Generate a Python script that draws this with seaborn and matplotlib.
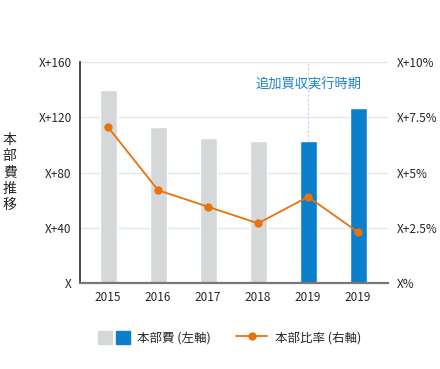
import pandas as pd
import seaborn as sns
import matplotlib.pyplot as plt
from matplotlib.patches import Patch
from matplotlib.lines import Line2D
from matplotlib.legend_handler import HandlerTuple

years = ['2015', '2016', '2017', '2018', '2019', '2019']
cost = [140, 113, 105, 103, 103, 127]
group = ['before', 'before', 'before', 'before', 'after', 'after']
ratio = [7.05, 4.2, 3.45, 2.7, 3.9, 2.3]
left_ticks = ['X', 'X+40', 'X+80', 'X+120', 'X+160']
right_ticks = ['X%', 'X+2.5%', 'X+5%', 'X+7.5%', 'X+10%']

gray = '#d5d8d9'
blue = '#0a7fcc'
orange = '#e8720c'

sns.set_style('white')
plt.rcParams['font.family'] = ['Noto Sans CJK JP', 'DejaVu Sans']

df = pd.DataFrame({'pos': range(len(years)), 'cost': cost, 'group': group, 'ratio': ratio})

fig = plt.figure(figsize=(4.4, 3.69), dpi=100)
ax = fig.add_axes([0.182, 0.233, 0.70, 0.599])
sns.barplot(data=df, x='pos', y='cost', hue='group', palette={'before': gray, 'after': blue},
            dodge=False, width=0.34, legend=False, ax=ax, saturation=1)
ax.set_xlim(-0.56, 5.6)
ax.set_ylim(0, 160)
ax.set_yticks([0, 40, 80, 120, 160])
ax.set_yticklabels(left_ticks, fontsize=8.5)
ax.set_xticks(range(len(years)))
ax.set_xticklabels(years, fontsize=8.5)
ax.tick_params(length=0, pad=6)
ax.set_xlabel('')
ax.set_ylabel('本\n部\n費\n推\n移', rotation=0, fontsize=10, va='center', ha='center', linespacing=1.2)
ax.yaxis.set_label_coords(-0.228, 0.5)
ax.xaxis.grid(False)
ax.yaxis.grid(True, color='#dde6f3', lw=0.9)
ax.set_axisbelow(True)
for s in ['top', 'right']:
    ax.spines[s].set_visible(False)
ax.spines['left'].set_color('#3a3a3a')
ax.spines['left'].set_linewidth(1.3)
ax.spines['left'].set_zorder(5)
ax.spines['bottom'].set_color('#777777')
ax.spines['bottom'].set_linewidth(1.6)
ax.spines['bottom'].set_zorder(5)

ax.vlines(4, cost[4], 160, colors='#c5d0e0', linestyles=(0, (2, 2)), lw=0.8, zorder=0.5)
ax.text(4, 143, '追加買収実行時期', color='#1a80c8', fontsize=9.5, ha='center', va='center')

ax2 = ax.twinx()
sns.lineplot(data=df, x='pos', y='ratio', color=orange, marker='o', markersize=6,
             markeredgewidth=0, lw=1.3, ax=ax2)
ax2.set_ylim(0, 10)
ax2.set_yticks([0, 2.5, 5, 7.5, 10])
ax2.set_yticklabels(right_ticks, fontsize=8.5)
ax2.tick_params(length=0, pad=6)
ax2.set_ylabel('')
for s in ['top', 'right', 'left', 'bottom']:
    ax2.spines[s].set_visible(False)

handles = [(Patch(color=gray), Patch(color=blue)),
           Line2D([], [], color=orange, marker='o', markersize=6, markeredgewidth=0, lw=1.3)]
fig.legend(handles, ['本部費 (左軸)', '本部比率 (右軸)'], loc='center', bbox_to_anchor=(0.522, 0.085),
           ncol=2, frameon=False, fontsize=9, columnspacing=2.0, handlelength=2.5, handleheight=1.3,
           handletextpad=0.6, handler_map={tuple: HandlerTuple(ndivide=None, pad=0.3)})

fig.savefig('out.png', dpi=100)
